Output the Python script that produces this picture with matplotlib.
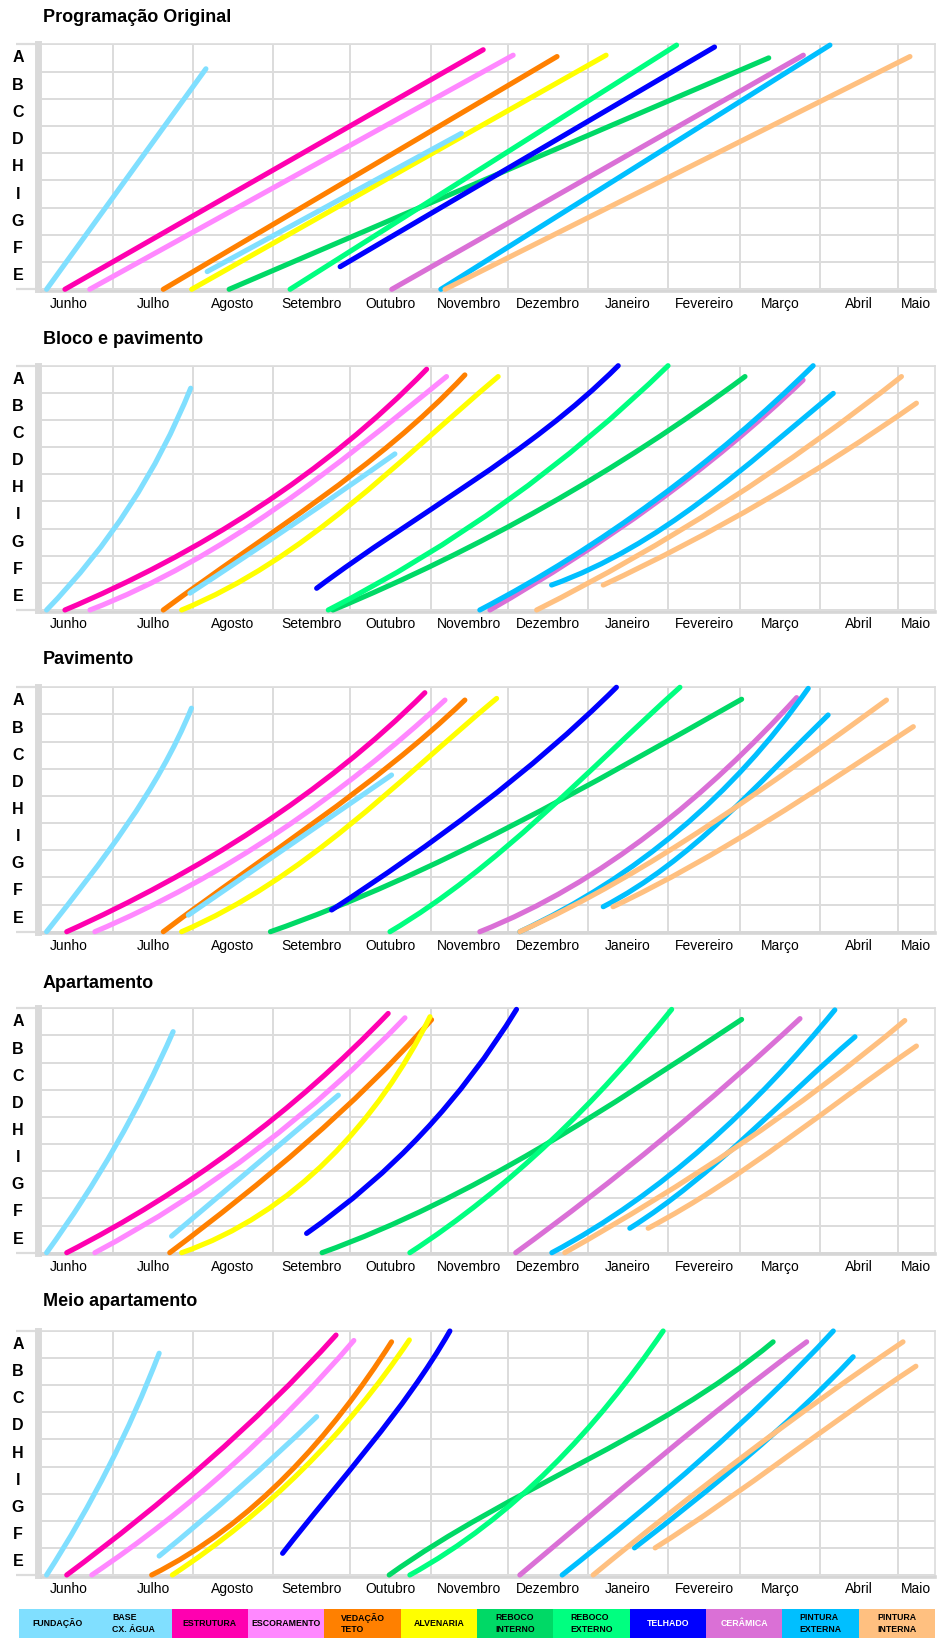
import matplotlib
matplotlib.use('Agg')
import matplotlib.pyplot as plt
import numpy as np
from matplotlib.path import Path
from matplotlib.patches import PathPatch

plt.rcParams['font.family'] = ['Liberation Sans', 'DejaVu Sans']

# ---------------- data ----------------
ROWS = ['A', 'B', 'C', 'D', 'H', 'I', 'G', 'F', 'E']          # top -> bottom
MONTHS = ['Junho', 'Julho', 'Agosto', 'Setembro', 'Outubro', 'Novembro',
          'Dezembro', 'Janeiro', 'Fevereiro', 'Março', 'Abril', 'Maio']
MONTH_STARTS = [30, 61, 92, 122, 153, 183, 214, 245, 273, 304, 334]   # days from 1 Jun
MONTH_LABEL_POS = [13, 45.5, 76.5, 107, 137.5, 168, 198.5, 229.5, 259, 288.5, 319, 341]
X_RANGE = (2.4, 348.4)

CATEGORIES = ['FUNDAÇÃO', 'BASE\nCX. ÁGUA', 'ESTRUTURA', 'ESCORAMENTO', 'VEDAÇÃO\nTETO',
              'ALVENARIA', 'REBOCO\nINTERNO', 'REBOCO\nEXTERNO', 'TELHADO', 'CERÂMICA',
              'PINTURA\nEXTERNA', 'PINTURA\nINTERNA']
CAT_COLORS = ['#80dfff', '#80dfff', '#ff00b0', '#ff88ff', '#ff8000', '#ffff00',
              '#00d966', '#00ff80', '#0000ff', '#da70d6', '#00bfff', '#ffc080']
CAT_TEXT = ['black'] * 8 + ['white', 'white'] + ['black'] * 2

TITLES = ['Programação Original', 'Bloco e pavimento', 'Pavimento', 'Apartamento',
          'Meio apartamento']

# line -> category (drawing order)
LINES_ORIG = [0, 2, 3, 4, 5, 1, 6, 7, 8, 9, 10, 11]
LINES_REST = [0, 2, 3, 4, 5, 1, 6, 7, 8, 9, 10, 10, 11, 11]

ORIG_X = [[4.3, 66], [11.4, 173.4], [21, 185], [49.5, 202], [60.5, 221], [66.5, 165],
          [75, 284], [98.6, 248.3], [118, 263], [138, 297.4], [157, 307.7], [158.6, 338.7]]
ORIG_Y = [[0, 8.1], [0, 8.8], [0, 8.6], [0, 8.55], [0, 8.6], [0.65, 5.73],
          [0, 8.5], [0, 8.97], [0.83, 8.9], [0, 8.6], [0, 8.97], [0, 8.55]]

BLOCO_X = [[4.3, 34.6, 60.1], [11.4, 63.7, 115.3, 151.5], [21.1, 63.7, 115.3, 159.2],
           [49.5, 89.5, 128.3, 166.3], [56.6, 102.4, 154, 179.2], [59.8, 102.4, 139.2],
           [115.2, 168.3, 213.4, 274.8], [113.4, 168.3, 245], [108.9, 141.2, 168.3, 225.7],
           [176, 220, 259, 297.3], [172.1, 219.9, 258.6, 301.2], [199.9, 245.7, 284.4, 309],
           [194.1, 245.7, 297.4, 335.4], [219.9, 271.5, 310.3, 341.2]]
BLOCO_Y = [[0, 3.56, 8.17], [0, 2.46, 5.77, 8.87], [0, 1.96, 5.28, 8.6],
           [0, 2.7, 5.4, 8.66], [0, 2.46, 6.51, 8.6], [0.62, 3.32, 5.75],
           [0, 2.33, 4.7, 8.6], [0, 3.07, 9.0], [0.8, 2.95, 4.67, 9.0],
           [0, 2.6, 5.3, 8.47], [0, 2.7, 5.4, 9.0], [0.92, 3.19, 6.02, 7.98],
           [0, 2.7, 5.9, 8.6], [0.92, 3.44, 5.65, 7.62]]

PAV_X = [[4.3, 15.9, 34, 60.4], [12.1, 63.7, 115.3, 150.8], [23, 63.7, 115.3, 158.6],
         [49.5, 89.5, 128.3, 166.3], [56.6, 102.4, 154, 178.6], [59.2, 137.9],
         [91, 168.3, 219.9, 273.5], [137.3, 168.3, 207, 249.6], [114.7, 168.3, 194.1, 225],
         [172.1, 219.9, 258.6, 294.8], [187.6, 232.8, 299.3], [219.9, 258.6, 284.4, 307],
         [187.6, 245.7, 297.4, 329.6], [223.7, 271.5, 310.3, 340]]
PAV_Y = [[0, 1.41, 3.74, 8.23], [0, 2.52, 5.83, 8.8], [0, 1.9, 5.1, 8.53],
         [0, 2.76, 5.46, 8.53], [0, 2.52, 6.57, 8.59], [0.61, 5.77],
         [0, 3.13, 5.7, 8.56], [0, 2.03, 5.22, 9.0], [0.8, 4.36, 6.32, 9.0],
         [0, 2.39, 5.22, 8.62], [0, 2.52, 8.96], [0.92, 3.5, 5.83, 7.98],
         [0, 3.0, 6.32, 8.53], [0.92, 3.38, 5.7, 7.55]]

APTO_X = [[4.3, 30.1, 53.3], [12.1, 63.7, 136.6], [23, 63.7, 143.1],
          [52, 89.5, 121.8, 153.4], [56.6, 89.5, 141.2, 152.8], [52.7, 117.3],
          [111, 168.3, 245.7, 273.5], [145, 168.3, 226.4, 246.4], [105, 141.2, 186.3],
          [186, 219.9, 296.1], [200, 232.8, 271.5, 309.6], [230.2, 265, 297.4, 317.4],
          [205, 252.1, 297.4, 336.7], [237.3, 278, 310.3, 341.2]]
APTO_Y = [[0, 3.78, 8.14], [0, 2.92, 8.81], [0, 2.31, 8.65],
          [0, 2.8, 5.5, 8.58], [0, 1.57, 6.73, 8.69], [0.61, 5.8],
          [0, 2.43, 6.85, 8.59], [0, 1.57, 6.73, 8.96], [0.71, 3.56, 8.96],
          [0, 2.43, 8.62], [0, 1.94, 5.0, 8.94], [0.9, 3.41, 6.24, 7.95],
          [0, 2.68, 5.62, 8.55], [0.9, 3.29, 5.5, 7.61]]

MEIO_X = [[4.3, 35.3, 47.9], [12.1, 50.8, 89.5, 116.4], [21.8, 63.7, 96, 123.3],
          [45, 76.6, 108.9, 137.9], [53, 89.5, 144.8], [47.9, 76.6, 108.9],
          [137, 168.3, 250, 285.7], [145, 168.3, 213.4, 243.1], [95.7, 121.8, 147.6, 160.5],
          [187.6, 225, 262, 298.7], [204, 245, 280, 309], [232, 265, 295, 316.7],
          [216, 258, 300, 336], [240, 280, 315, 341]]
MEIO_Y = [[0, 5.35, 8.18], [0, 2.9, 6.2, 8.85], [0, 3.01, 5.84, 8.65],
          [0, 1.92, 4.87, 8.6], [0, 2.65, 8.67], [0.7, 3.01, 5.84],
          [0, 1.9, 6.2, 8.6], [0, 1.41, 5.35, 9.0], [0.8, 3.87, 7.07, 9.0],
          [0, 3.0, 5.9, 8.6], [0, 3.2, 6.2, 9.0], [1.0, 3.5, 6.0, 8.05],
          [0, 3.2, 6.2, 8.6], [1.0, 3.6, 6.0, 7.7]]

PANELS = [(ORIG_X, ORIG_Y, LINES_ORIG), (BLOCO_X, BLOCO_Y, LINES_REST),
          (PAV_X, PAV_Y, LINES_REST), (APTO_X, APTO_Y, LINES_REST),
          (MEIO_X, MEIO_Y, LINES_REST)]

# ---------------- layout (pixels of a 940x1641 canvas) ----------------
W, H = 940, 1641
LEFT, RIGHT = 41.7, 935
PANEL_TOPS = [44.3, 365.7, 687.3, 1008.3, 1331]
PANEL_BOTS = [289.3, 610, 931.7, 1252.7, 1575]
TITLE_Y = [18, 339, 660, 983, 1302]
GRID = '#dcdcdc'
ASPECT = np.array([2.582, 27.2])   # px per day, px per row (for chord parametrisation)


def curve_through(xs, ys):
    """Bezier path through the read points (2 -> line, 3 -> quadratic, 4 -> cubic)."""
    P = np.column_stack([xs, ys]).astype(float)
    n = len(P)
    if n == 2:
        return Path(P, [Path.MOVETO, Path.LINETO])
    seg = np.linalg.norm(np.diff(P * ASPECT, axis=0), axis=1)
    t = np.concatenate([[0], np.cumsum(seg)]) / seg.sum()
    if n == 3:
        s = t[1]
        C = (P[1] - (1 - s) ** 2 * P[0] - s ** 2 * P[2]) / (2 * s * (1 - s))
        return Path([P[0], C, P[2]], [Path.MOVETO, Path.CURVE3, Path.CURVE3])
    t1, t2 = t[1], t[2]
    a1, b1 = 3 * (1 - t1) ** 2 * t1, 3 * (1 - t1) * t1 ** 2
    a2, b2 = 3 * (1 - t2) ** 2 * t2, 3 * (1 - t2) * t2 ** 2
    r1 = P[1] - (1 - t1) ** 3 * P[0] - t1 ** 3 * P[3]
    r2 = P[2] - (1 - t2) ** 3 * P[0] - t2 ** 3 * P[3]
    det = a1 * b2 - a2 * b1
    C1 = (r1 * b2 - r2 * b1) / det
    C2 = (a1 * r2 - a2 * r1) / det
    return Path([P[0], C1, C2, P[3]], [Path.MOVETO, Path.CURVE4, Path.CURVE4, Path.CURVE4])


fig = plt.figure(figsize=(W / 100, H / 100), dpi=100)

for k, (xs_list, ys_list, cats) in enumerate(PANELS):
    top, bot = PANEL_TOPS[k], PANEL_BOTS[k]
    ax = fig.add_axes([LEFT / W, 1 - bot / H, (RIGHT - LEFT) / W, (bot - top) / H])
    ax.set_xlim(*X_RANGE)
    ax.set_ylim(0, 9)

    ax.set_xticks(MONTH_STARTS)
    ax.set_xticklabels([])
    ax.set_xticks(MONTH_LABEL_POS, minor=True)
    ax.set_xticklabels(MONTHS, minor=True, fontsize=10, fontweight='bold')
    ax.tick_params(axis='x', which='both', length=0)
    ax.tick_params(axis='x', which='minor', pad=4)
    ax.grid(axis='x', which='major', color=GRID, lw=1.4)

    ax.set_yticks([0, 9])
    ax.set_yticklabels([])
    ax.set_yticks(range(1, 9), minor=True)
    ax.tick_params(axis='y', which='major', length=16, width=1.6, color=GRID)
    ax.tick_params(axis='y', which='minor', length=0)
    ax.grid(axis='y', which='both', color=GRID, lw=1.4)
    ax.set_axisbelow(True)

    for r, lab in enumerate(ROWS):
        ax.text(-0.0265, 8.5 - r, lab, transform=ax.get_yaxis_transform(),
                ha='center', va='center', fontsize=11.5, fontweight='bold')

    ax.spines['left'].set_color('#dadada')
    ax.spines['left'].set_linewidth(5)
    ax.spines['left'].set_position(('outward', 2.5))
    ax.spines['bottom'].set_color('#d6d6d6')
    ax.spines['bottom'].set_linewidth(2.6)
    ax.spines['bottom'].set_position(('outward', 1.2))
    for s in ('top', 'right'):
        ax.spines[s].set_color(GRID)
        ax.spines[s].set_linewidth(1.2)

    for xs, ys, c in zip(xs_list, ys_list, cats):
        patch = PathPatch(curve_through(xs, ys), fill=False, edgecolor=CAT_COLORS[c],
                          lw=3.7, capstyle='round', joinstyle='round', clip_on=False, zorder=3)
        ax.add_patch(patch)

    fig.text(43 / W, 1 - TITLE_Y[k] / H, TITLES[k], fontsize=13, fontweight='bold',
             ha='left', va='center')

# ---------------- legend strip ----------------
lax = fig.add_axes([19 / W, 1 - 1638 / H, (935 - 19) / W, 29 / H])
pos = list(range(len(CATEGORIES)))
lax.bar(pos, [1] * len(pos), width=1, color=CAT_COLORS)
lax.set_xlim(-0.5, len(pos) - 0.5)
lax.set_ylim(0, 1)
lax.axis('off')
for i, lab in enumerate(CATEGORIES):
    lax.text(i, 0.5, lab, ha='center', va='center', fontsize=6.3, fontweight='bold',
             color=CAT_TEXT[i], linespacing=1.35, multialignment='left')

fig.savefig('out.png', dpi=100)
